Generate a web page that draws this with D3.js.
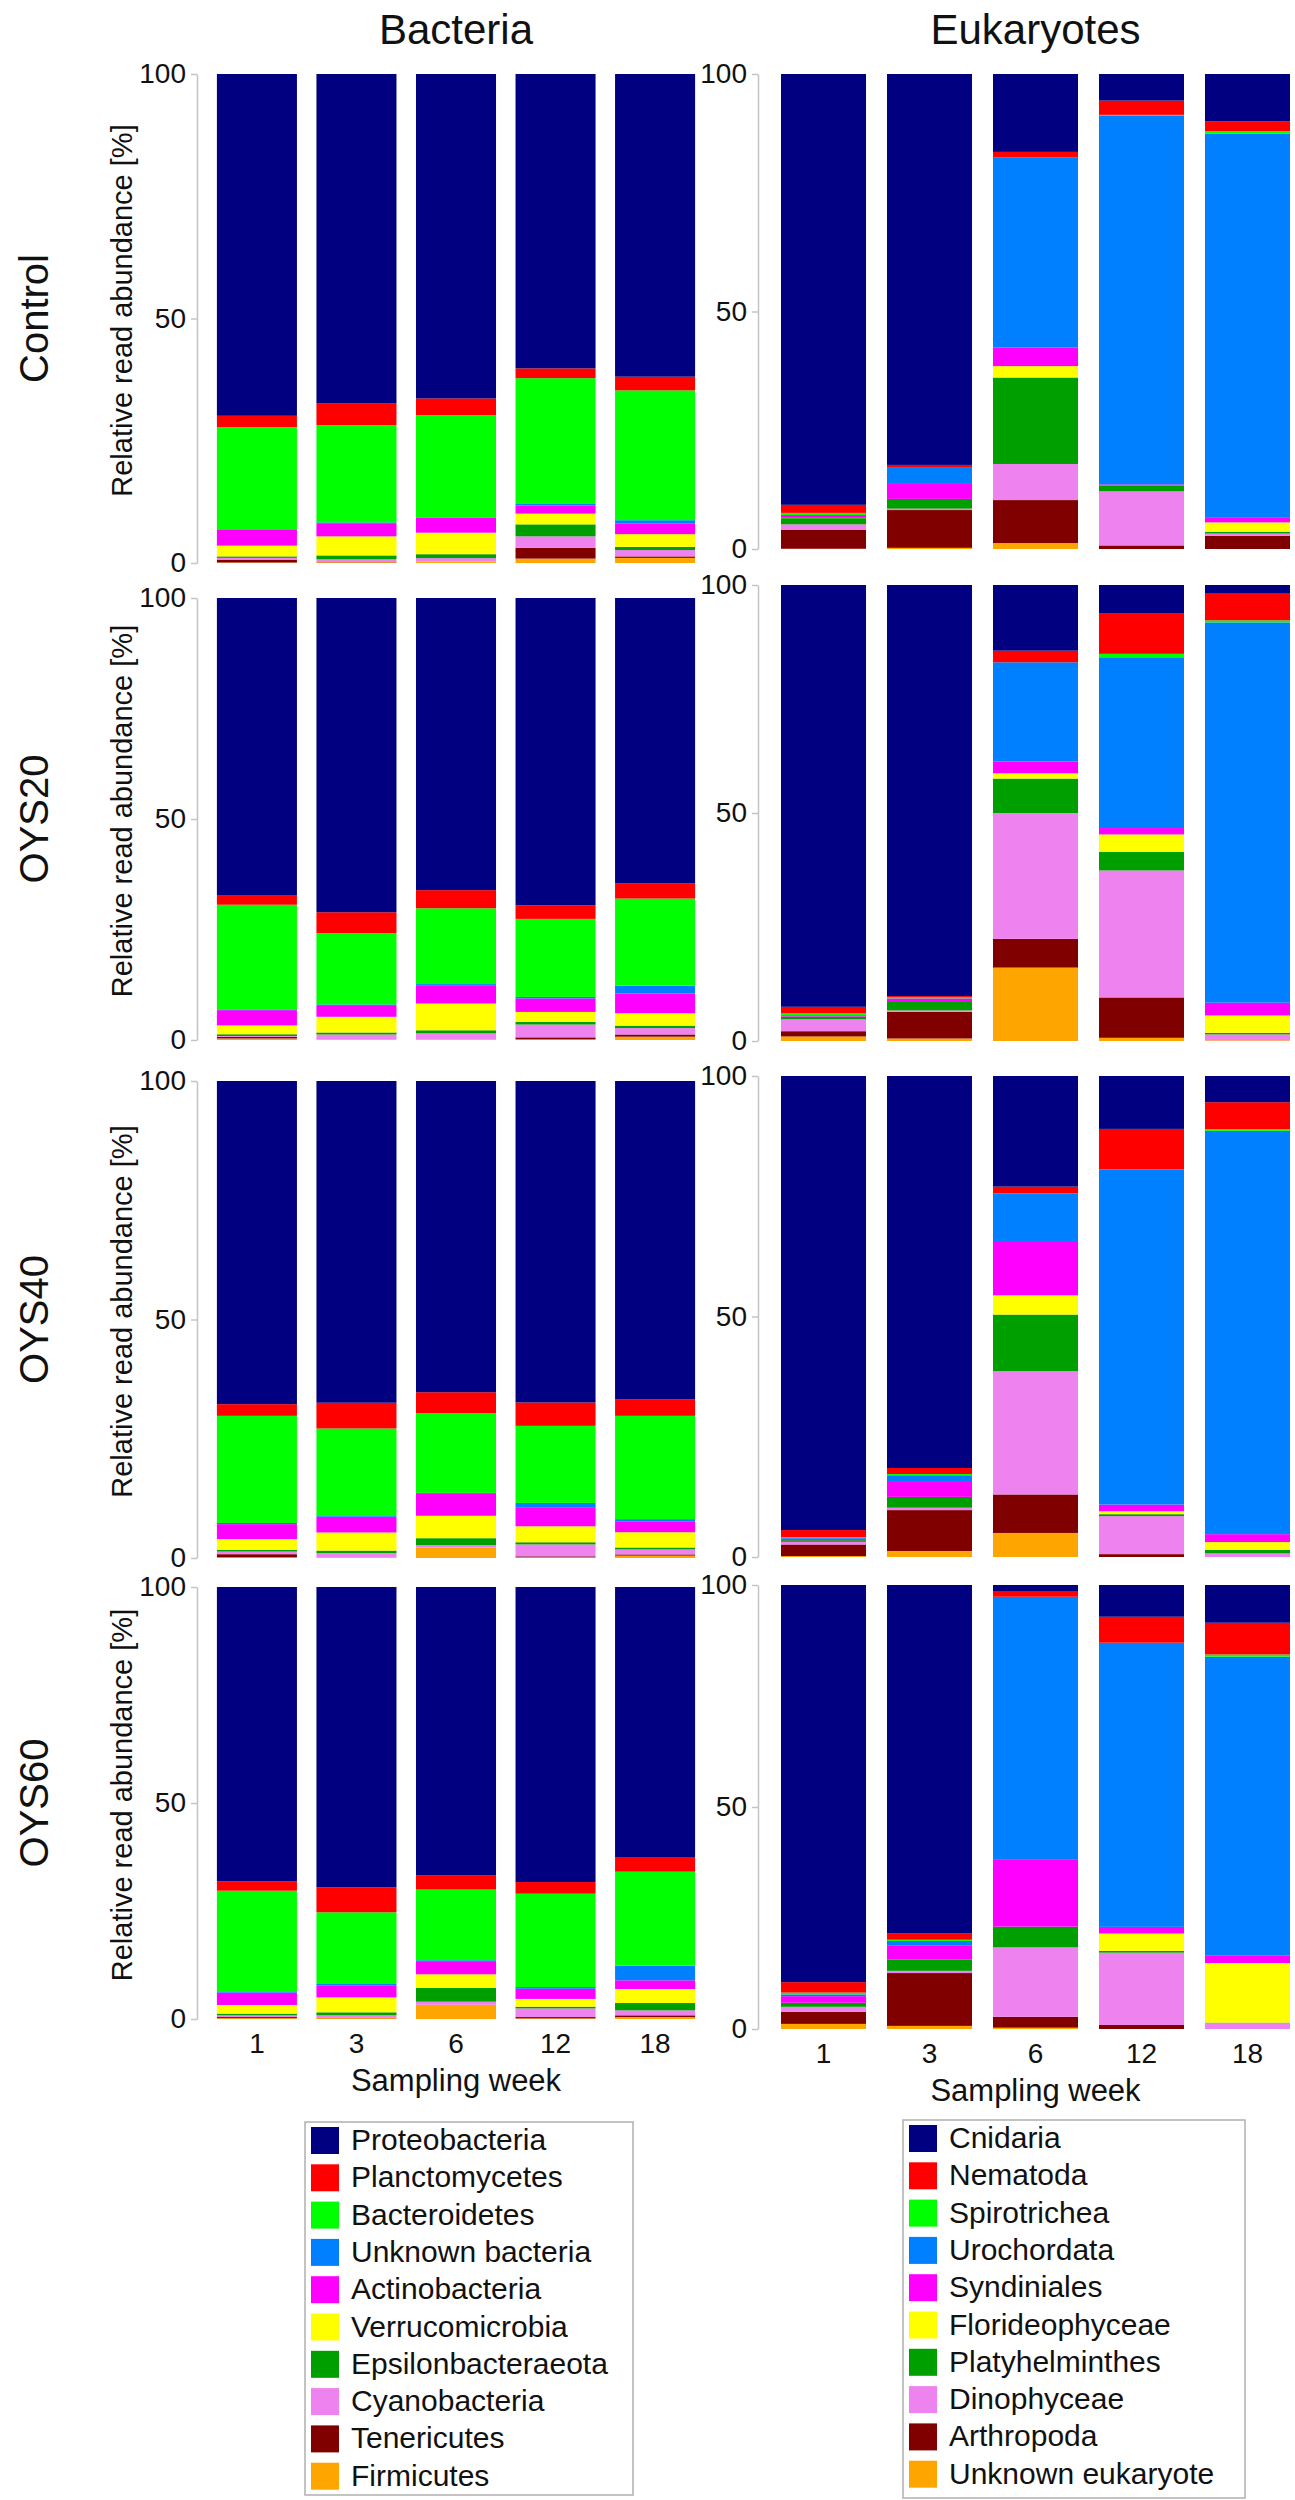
<!DOCTYPE html>
<html>
<head>
<meta charset="utf-8">
<script src="https://cdn.jsdelivr.net/npm/d3@7"></script>
<style>
  body { margin: 0; background: #fff; }
  text { fill: #111; }
</style>
</head>
<body>
<script>
// sampling weeks and treatments
const weeks = ['1', '3', '6', '12', '18'];
const treatments = ['Control', 'OYS20', 'OYS40', 'OYS60'];

// taxa in legend order (top of the stack first)
const bacTaxa = ['Proteobacteria', 'Planctomycetes', 'Bacteroidetes', 'Unknown bacteria', 'Actinobacteria',
    'Verrucomicrobia', 'Epsilonbacteraeota', 'Cyanobacteria', 'Tenericutes', 'Firmicutes'];
const eukTaxa = ['Cnidaria', 'Nematoda', 'Spirotrichea', 'Urochordata', 'Syndiniales',
    'Florideophyceae', 'Platyhelminthes', 'Dinophyceae', 'Arthropoda', 'Unknown eukaryote'];
const taxaColors = ['#000080', '#ff0000', '#00ff00', '#0080ff', '#ff00ff',
    '#ffff00', '#009f00', '#ee82ee', '#800000', '#ffa500'];

// relative read abundance [%], one row per week, columns in taxa order
const bacControl = [
    [69.9, 2.3, 20.9, 0.15, 3.2, 2.2, 0.3, 0.35, 0.6, 0.1],
    [67.4, 4.4, 19.9, 0.15, 2.7, 3.9, 0.8, 0.55, 0.05, 0.15],
    [66.35, 3.4, 20.9, 0.05, 3.1, 4.4, 0.8, 0.7, 0.0, 0.3],
    [60.2, 2.0, 25.6, 0.45, 1.65, 2.2, 2.45, 2.35, 2.2, 0.9],
    [61.9, 2.8, 26.55, 0.7, 2.15, 2.6, 0.65, 1.3, 0.3, 1.05]
];
const bacOYS20 = [
    [67.2, 2.2, 23.8, 0.05, 3.45, 2.0, 0.4, 0.2, 0.35, 0.35],
    [71.1, 4.7, 16.15, 0.15, 2.65, 3.55, 0.45, 1.1, 0.0, 0.15],
    [66.1, 4.1, 17.15, 0.25, 4.15, 6.05, 0.7, 1.35, 0.0, 0.15],
    [69.55, 3.05, 17.65, 0.35, 3.05, 2.25, 0.6, 2.9, 0.45, 0.15],
    [64.6, 3.4, 19.7, 1.8, 4.45, 2.8, 0.55, 1.45, 0.5, 0.75]
];
const bacOYS40 = [
    [67.75, 2.45, 22.45, 0.25, 3.15, 2.25, 0.35, 0.55, 0.65, 0.15],
    [67.45, 5.4, 18.35, 0.15, 3.3, 3.8, 0.5, 0.9, 0.0, 0.15],
    [65.25, 4.35, 16.75, 0.2, 4.6, 4.7, 1.45, 0.5, 0.0, 2.2],
    [67.4, 4.9, 16.15, 0.9, 4.0, 3.35, 0.45, 2.5, 0.2, 0.15],
    [66.7, 3.5, 21.65, 0.45, 2.3, 3.2, 0.4, 1.05, 0.25, 0.5]
];
const bacOYS60 = [
    [68.1, 2.2, 23.45, 0.15, 2.85, 2.0, 0.4, 0.4, 0.25, 0.2],
    [69.5, 5.8, 16.6, 0.3, 2.8, 3.45, 0.7, 0.6, 0.05, 0.2],
    [66.8, 3.25, 16.35, 0.2, 3.05, 3.15, 3.2, 0.7, 0.0, 3.3],
    [68.3, 2.7, 21.6, 0.4, 2.35, 1.8, 0.4, 2.0, 0.3, 0.15],
    [62.5, 3.4, 21.75, 3.4, 2.0, 3.25, 1.7, 1.15, 0.4, 0.45]
];
const eukControl = [
    [90.7, 1.7, 0.45, 0.2, 0.4, 0.05, 1.3, 1.2, 3.95, 0.05],
    [82.3, 0.6, 0.0, 3.4, 3.15, 0.0, 2.05, 0.3, 7.95, 0.25],
    [16.4, 1.2, 0.0, 40.0, 3.9, 2.4, 18.2, 7.6, 9.05, 1.25],
    [5.6, 3.0, 0.1, 77.7, 0.25, 0.0, 1.2, 11.4, 0.75, 0.0],
    [10.0, 2.0, 0.6, 80.7, 1.1, 2.0, 0.35, 0.45, 2.8, 0.0]
];
const eukOYS20 = [
    [92.5, 1.45, 0.35, 0.15, 0.2, 0.0, 0.6, 2.6, 1.15, 1.0],
    [90.15, 0.3, 0.2, 0.0, 0.8, 0.0, 1.85, 0.3, 5.85, 0.55],
    [14.4, 2.55, 0.0, 21.75, 2.6, 1.15, 7.55, 27.6, 6.3, 16.1],
    [6.15, 8.95, 0.75, 37.45, 1.4, 3.8, 4.1, 27.85, 8.85, 0.7],
    [1.9, 5.85, 0.45, 83.4, 2.8, 3.8, 0.35, 1.3, 0.0, 0.15]
];
const eukOYS40 = [
    [94.4, 1.5, 0.15, 0.15, 0.3, 0.0, 0.35, 0.55, 2.4, 0.2],
    [81.5, 1.25, 0.25, 1.4, 3.1, 0.0, 2.25, 0.5, 8.5, 1.25],
    [23.0, 1.4, 0.0, 9.9, 11.3, 4.0, 11.75, 25.65, 8.0, 5.0],
    [11.0, 8.4, 0.0, 69.7, 1.4, 0.6, 0.4, 7.9, 0.6, 0.0],
    [5.45, 5.65, 0.3, 83.85, 1.65, 1.6, 0.75, 0.75, 0.0, 0.0]
];
const eukOYS60 = [
    [89.45, 2.35, 0.4, 0.4, 1.5, 0.0, 0.9, 1.15, 2.7, 1.15],
    [78.4, 1.5, 0.25, 1.1, 3.15, 0.0, 2.5, 0.5, 11.9, 0.7],
    [1.5, 1.15, 0.0, 59.1, 15.2, 0.0, 4.65, 15.65, 2.45, 0.3],
    [7.15, 5.85, 0.0, 64.0, 1.5, 3.9, 0.4, 16.3, 0.9, 0.0],
    [8.5, 7.15, 0.5, 67.35, 1.65, 13.4, 0.05, 1.4, 0.0, 0.0]
];
const yTicks = [0, 50, 100];

const bacRows = [bacControl, bacOYS20, bacOYS40, bacOYS60];
const eukRows = [eukControl, eukOYS20, eukOYS40, eukOYS60];

// layout: pixel extent (top = 100 %, bottom = 0 %) of each panel
const bacYRange = [[74, 563], [598, 1040], [1081, 1558], [1587, 2019]];
const eukYRange = [[74, 549], [585, 1041], [1076, 1557], [1585, 2029]];
const NARROW = '"Liberation Sans Narrow", "Arial Narrow", sans-serif';
const SANS = '"Liberation Sans", Arial, sans-serif';

const W = 1295, H = 2500;
const svg = d3.select('body').append('svg')
    .attr('width', W)
    .attr('height', H);

const bacX = d3.scaleBand().domain(weeks).range([197, 715]).paddingInner(0.196).paddingOuter(0.2);
const eukX = d3.scaleBand().domain(weeks).range([758, 1313]).paddingInner(0.198).paddingOuter(0.217);

function drawPanel(values, taxa, x, yRange, lastRow) {
    const rows = weeks.map((w, i) => {
        const o = {week: w};
        taxa.forEach((t, j) => o[t] = values[i][j]);
        return o;
    });
    const colorOf = d3.scaleOrdinal().domain(taxa).range(taxaColors);
    const y = d3.scaleLinear().domain([0, 100]).range([yRange[1], yRange[0]]);
    const series = d3.stack().keys(taxa.slice().reverse())(rows);

    const g = svg.append('g');
    g.selectAll('g.layer')
        .data(series)
        .join('g')
        .classed('layer', true)
        .attr('fill', d => colorOf(d.key))
        .selectAll('rect')
        .data(d => d)
        .join('rect')
        .attr('x', d => x(d.data.week))
        .attr('width', x.bandwidth())
        .attr('y', d => y(d[1]))
        .attr('height', d => Math.max(0, y(d[0]) - y(d[1])));

    // y axis: light grey line with short ticks
    const ax = g.append('g')
        .attr('transform', `translate(${x.range()[0]},0)`)
        .call(d3.axisLeft(y).tickValues(yTicks).tickSize(6).tickSizeOuter(0).tickPadding(5));
    ax.select('.domain').attr('stroke', '#c4c4c4').attr('stroke-width', 1.5);
    ax.selectAll('.tick line').attr('stroke', '#c4c4c4').attr('stroke-width', 1.5);
    ax.selectAll('.tick text')
        .style('font-family', NARROW)
        .style('font-size', '28px')
        .attr('fill', '#111');

    if (lastRow) {
        const xa = g.append('g')
            .attr('transform', `translate(0,${yRange[1] + 8})`)
            .call(d3.axisBottom(x).tickSize(0).tickPadding(6));
        xa.select('.domain').remove();
        xa.selectAll('.tick text')
            .style('font-family', NARROW)
            .style('font-size', '28px')
            .attr('fill', '#111');
        const bw = x.bandwidth();
        g.append('text')
            .attr('x', (x(weeks[0]) + x(weeks[4]) + bw) / 2)
            .attr('y', yRange[1] + 72)
            .attr('text-anchor', 'middle')
            .style('font-family', NARROW)
            .style('font-size', '31px')
            .text('Sampling week');
    }
    return y;
}

treatments.forEach((t, r) => {
    drawPanel(bacRows[r], bacTaxa, bacX, bacYRange[r], r === treatments.length - 1);
    drawPanel(eukRows[r], eukTaxa, eukX, eukYRange[r], r === treatments.length - 1);

    const mid = (bacYRange[r][0] + bacYRange[r][1]) / 2;
    svg.append('text')
        .attr('transform', `translate(48,${mid}) rotate(-90)`)
        .attr('text-anchor', 'middle')
        .style('font-family', SANS)
        .style('font-size', '40px')
        .text(t);
    svg.append('text')
        .attr('transform', `translate(132,${mid - 8}) rotate(-90)`)
        .attr('text-anchor', 'middle')
        .style('font-family', SANS)
        .style('font-size', '29px')
        .text('Relative read abundance [%]');
});

// column titles
[['Bacteria', bacX], ['Eukaryotes', eukX]].forEach(([label, x]) => {
    svg.append('text')
        .attr('x', (x(weeks[0]) + x(weeks[4]) + x.bandwidth()) / 2)
        .attr('y', 44)
        .attr('text-anchor', 'middle')
        .style('font-family', NARROW)
        .style('font-size', '42px')
        .text(label);
});

// legends
function drawLegend(taxa, x0, y0, w, h) {
    const g = svg.append('g').attr('transform', `translate(${x0},${y0})`);
    g.append('rect')
        .attr('width', w).attr('height', h)
        .attr('fill', '#fff')
        .attr('stroke', '#b0b0b0')
        .attr('stroke-width', 1.5);
    const item = g.selectAll('g.item')
        .data(taxa)
        .join('g')
        .classed('item', true)
        .attr('transform', (d, i) => `translate(6,${18 + i * 37.3})`);
    item.append('rect')
        .attr('y', -13)
        .attr('width', 28).attr('height', 27)
        .attr('fill', (d, i) => taxaColors[i]);
    item.append('text')
        .attr('x', 40)
        .attr('y', 10)
        .style('font-family', NARROW)
        .style('font-size', '30px')
        .text(d => d);
}
drawLegend(bacTaxa, 305, 2122, 328, 373);
drawLegend(eukTaxa, 903, 2120, 342, 378);
</script>
</body>
</html>
